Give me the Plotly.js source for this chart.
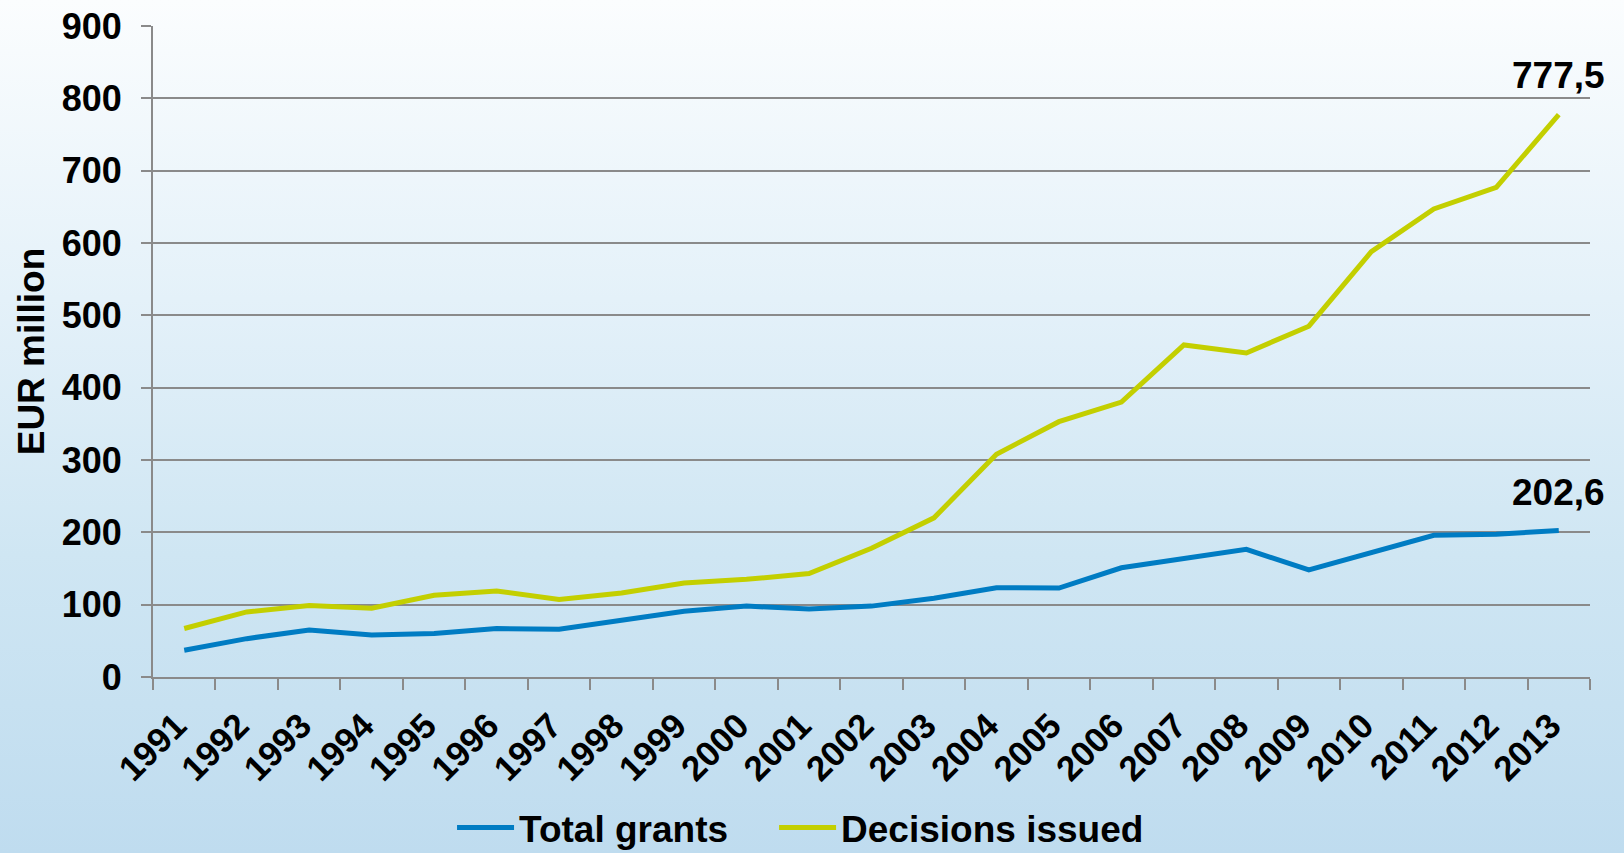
<!DOCTYPE html>
<html>
<head>
<meta charset="utf-8">
<script src="https://cdn.plot.ly/plotly-3.0.1.min.js"></script>
<style>
  html, body { margin: 0; padding: 0; width: 1624px; height: 853px; overflow: hidden;
    background: linear-gradient(to bottom, #fbfdfe 0%, #e4f1f9 35%, #cfe6f3 65%, #bfdcef 100%); }
  #chart { width: 1624px; height: 853px; }
</style>
</head>
<body>
<div id="chart"></div>
<script>
const years = ["1991","1992","1993","1994","1995","1996","1997","1998","1999","2000","2001","2002",
               "2003","2004","2005","2006","2007","2008","2009","2010","2011","2012","2013"];
const totalGrants = [37, 53, 65, 58, 60, 67, 66, 78, 91, 98, 94, 98,
                     109, 123.5, 123, 151, 164, 176.5, 148, 172, 196, 197.5, 202.6];
const decisionsIssued = [67, 90, 99, 95, 113, 119, 107, 116, 130, 135, 143, 178,
                         220, 308, 353, 380, 459, 448, 485, 588, 647, 677, 777.5];
const seriesNames = ["Total grants", "Decisions issued"];
const yTickVals = [0, 100, 200, 300, 400, 500, 600, 700, 800, 900];

const FONT = "'Liberation Sans', Arial, sans-serif";
const gray = "#8a8a8a";
const fmt = v => String(v).replace('.', ',');

const traces = [
  { x: years, y: totalGrants, name: seriesNames[0], type: 'scatter', mode: 'lines', legend: 'legend',
    line: { color: '#007cc3', width: 5 } },
  { x: years, y: decisionsIssued, name: seriesNames[1], type: 'scatter', mode: 'lines', legend: 'legend2',
    line: { color: '#c3cf00', width: 5 } }
];

const last = years.length - 1;
const annFont = { family: FONT, size: 37, weight: 700, color: '#000' };
const legFont = { family: FONT, size: 37, weight: 700, color: '#000' };
const layout = {
  width: 1624, height: 853,
  paper_bgcolor: 'rgba(0,0,0,0)', plot_bgcolor: 'rgba(0,0,0,0)',
  margin: { l: 153, r: 34, t: 26, b: 176, autoexpand: false },
  font: { family: FONT, color: '#000', size: 36, weight: 700 },
  showlegend: true,
  legend: { orientation: 'h', x: 0.2081, xref: 'paper', xanchor: 'left', y: -0.232, yanchor: 'middle',
    font: legFont, bgcolor: 'rgba(0,0,0,0)', itemwidth: 57 },
  legend2: { orientation: 'h', x: 0.4322, xref: 'paper', xanchor: 'left', y: -0.232, yanchor: 'middle',
    font: legFont, bgcolor: 'rgba(0,0,0,0)', itemwidth: 57 },
  xaxis: { type: 'category', range: [-0.5, 22.5], tickson: 'boundaries', ticks: 'outside', ticklen: 11,
    tickcolor: gray, tickwidth: 2, showline: true, linecolor: gray, linewidth: 2, showgrid: false,
    tickangle: -45, ticklabelstandoff: 12, ticklabelshift: -8, automargin: false,
    tickfont: { family: FONT, size: 35, weight: 700, color: '#000' }, fixedrange: true },
  yaxis: { range: [0, 900], tickvals: yTickVals, ticks: 'outside', ticklen: 10, tickcolor: gray, tickwidth: 2,
    showline: true, linecolor: gray, linewidth: 2, showgrid: true, gridcolor: gray, gridwidth: 2,
    zeroline: false, ticklabelstandoff: 12, automargin: false,
    tickfont: { family: FONT, size: 36, weight: 700, color: '#000' },
    title: { text: 'EUR million', standoff: 6, font: { family: FONT, size: 37, weight: 700, color: '#000' } } },
  annotations: [
    { x: last, y: decisionsIssued[last], xref: 'x', yref: 'y', text: fmt(decisionsIssued[last]),
      showarrow: false, xanchor: 'center', yanchor: 'middle', yshift: 39, font: annFont },
    { x: last, y: totalGrants[last], xref: 'x', yref: 'y', text: fmt(totalGrants[last]),
      showarrow: false, xanchor: 'center', yanchor: 'middle', yshift: 38, font: annFont }
  ]
};

Plotly.newPlot('chart', traces, layout, { staticPlot: true, displayModeBar: false });
</script>
</body>
</html>
